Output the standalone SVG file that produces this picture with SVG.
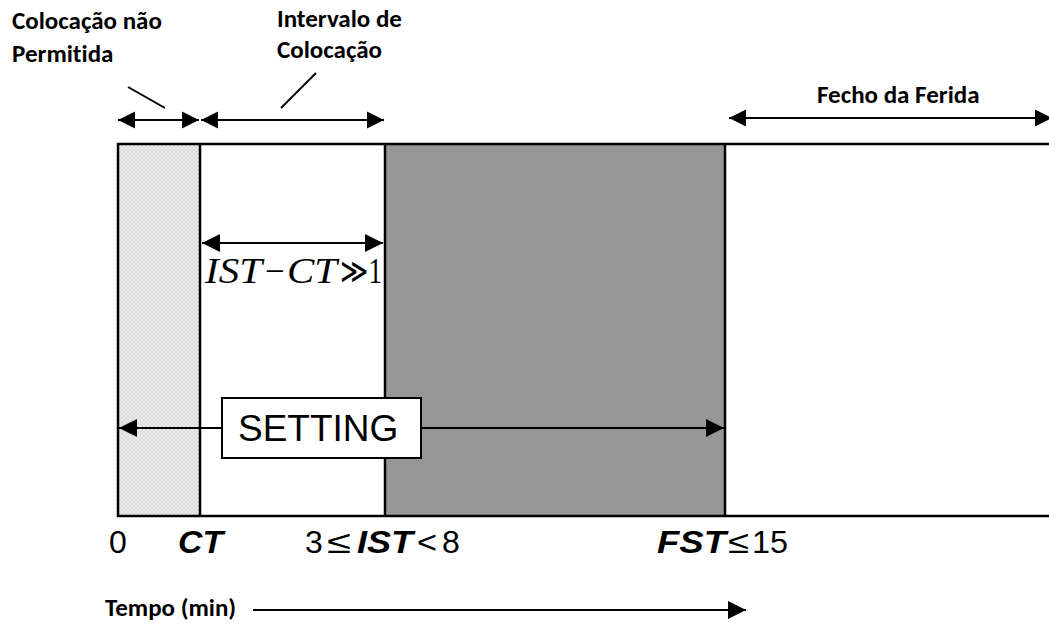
<svg xmlns="http://www.w3.org/2000/svg" width="1049" height="624" viewBox="0 0 1049 624">
  <style>
    .lbl { font-family: Carlito, Lato, "Liberation Sans", Arial, sans-serif; font-weight: bold; font-size: 25px; fill: #000; font-variant-ligatures: none; }
    .axis { font-family: "Liberation Sans", Arial, sans-serif; font-size: 32px; fill: #000; }
    .bi { font-weight: bold; font-style: italic; }
    .math { font-family: "Liberation Serif", "DejaVu Serif", serif; font-size: 35px; fill: #000; }
    .it { font-style: italic; }
    .ln { stroke: #000; stroke-width: 2.5; fill: none; }
    .thin { stroke: #000; stroke-width: 2; fill: none; }
  </style>
  <defs>
    <pattern id="hatch" width="4" height="4" patternUnits="userSpaceOnUse">
      <rect width="4" height="4" fill="#ececec"/>
      <path d="M0 0L4 4M4 0L0 4" stroke="#d4d4d4" stroke-width="0.8"/>
    </pattern>
    <marker id="ahL" viewBox="0 0 10 10" refX="10" refY="5" markerWidth="18" markerHeight="18" orient="auto-start-reverse" markerUnits="userSpaceOnUse">
      <path d="M0 0L10 5L0 10Z" fill="#000"/>
    </marker>
    <marker id="ahT" viewBox="0 0 10 10" refX="10" refY="5" markerWidth="17" markerHeight="20" orient="auto-start-reverse" markerUnits="userSpaceOnUse">
      <path d="M0 0L10 5L0 10Z" fill="#000"/>
    </marker>
  </defs>

  <rect width="1049" height="624" fill="#fff"/>

  <!-- timeline bands -->
  <g id="band-no-placement">
    <rect x="118" y="144" width="82" height="372" fill="url(#hatch)"/>
  </g>
  <g id="band-placement">
    <rect x="200" y="144" width="185" height="372" fill="#fff"/>
  </g>
  <g id="band-setting">
    <rect x="385" y="144" width="340" height="372" fill="#969696"/>
  </g>
  <g id="band-closure">
    <rect x="725" y="144" width="330" height="372" fill="#fff"/>
  </g>
  <g id="frame">
    <path d="M1052 144H118V516H1052" class="ln" stroke-width="3"/>
    <path d="M200 144V516M385 144V516M725 144V516" class="ln"/>
  </g>

  <!-- connectors -->
  <g id="connectors">
    <line x1="118" y1="120" x2="199" y2="120" class="thin" marker-start="url(#ahT)" marker-end="url(#ahT)"/>
    <line x1="201" y1="120" x2="384" y2="120" class="thin" marker-start="url(#ahT)" marker-end="url(#ahT)"/>
    <line x1="729" y1="118" x2="1052" y2="118" class="thin" marker-start="url(#ahT)" marker-end="url(#ahT)"/>
    <line x1="128" y1="87" x2="165" y2="108" class="thin"/>
    <line x1="316" y1="73" x2="281" y2="108" class="thin"/>
    <line x1="202" y1="243" x2="383" y2="243" class="thin" marker-start="url(#ahL)" marker-end="url(#ahL)"/>
    <line x1="119" y1="428" x2="223" y2="428" class="thin" marker-start="url(#ahL)"/>
    <line x1="420" y1="428" x2="724" y2="428" class="thin" marker-end="url(#ahL)"/>
    <line x1="253" y1="610" x2="746" y2="610" class="thin" marker-end="url(#ahL)"/>
  </g>

  <!-- labels -->
  <g id="label-no-placement">
    <text x="12" y="29" class="lbl">Colocação não</text>
    <text x="12" y="62" class="lbl">Permitida</text>
  </g>
  <g id="label-placement">
    <text x="277" y="27" class="lbl">Intervalo de</text>
    <text x="277" y="58" class="lbl">Colocação</text>
  </g>
  <g id="label-closure">
    <text x="817" y="103" class="lbl">Fecho da Ferida</text>
  </g>
  <g id="label-condition" class="math">
    <text x="205" y="283" class="it" textLength="57" lengthAdjust="spacingAndGlyphs">IST</text>
    <text x="265" y="283">−</text>
    <text x="287" y="283" class="it" textLength="50" lengthAdjust="spacingAndGlyphs">CT</text>
    <text x="340" y="283" textLength="42" lengthAdjust="spacingAndGlyphs">≫1</text>
  </g>
  <g id="setting-box">
    <rect x="222" y="398" width="199" height="60" fill="#fff" stroke="#000" stroke-width="2"/>
    <text x="238" y="441" font-family="'Liberation Sans', Arial, sans-serif" font-size="37" fill="#000">SETTING</text>
  </g>
  <g id="axis-labels" class="axis">
    <text x="109" y="553">0</text>
    <text x="178" y="553" class="bi" textLength="45" lengthAdjust="spacingAndGlyphs">CT</text>
    <text x="305" y="553">3</text>
    <text x="327" y="553" textLength="24" lengthAdjust="spacingAndGlyphs">≤</text>
    <text x="357" y="553" class="bi" textLength="56" lengthAdjust="spacingAndGlyphs">IST</text>
    <text x="417" y="553" textLength="20" lengthAdjust="spacingAndGlyphs">&lt;</text>
    <text x="442" y="553">8</text>
    <text x="657" y="553" class="bi" textLength="69" lengthAdjust="spacingAndGlyphs">FST</text>
    <text x="728" y="553" textLength="21" lengthAdjust="spacingAndGlyphs">≤</text>
    <text x="752" y="553" textLength="36" lengthAdjust="spacingAndGlyphs">15</text>
  </g>
  <g id="axis-title">
    <text x="105" y="616" class="lbl" font-size="26">Tempo (min)</text>
  </g>
</svg>
